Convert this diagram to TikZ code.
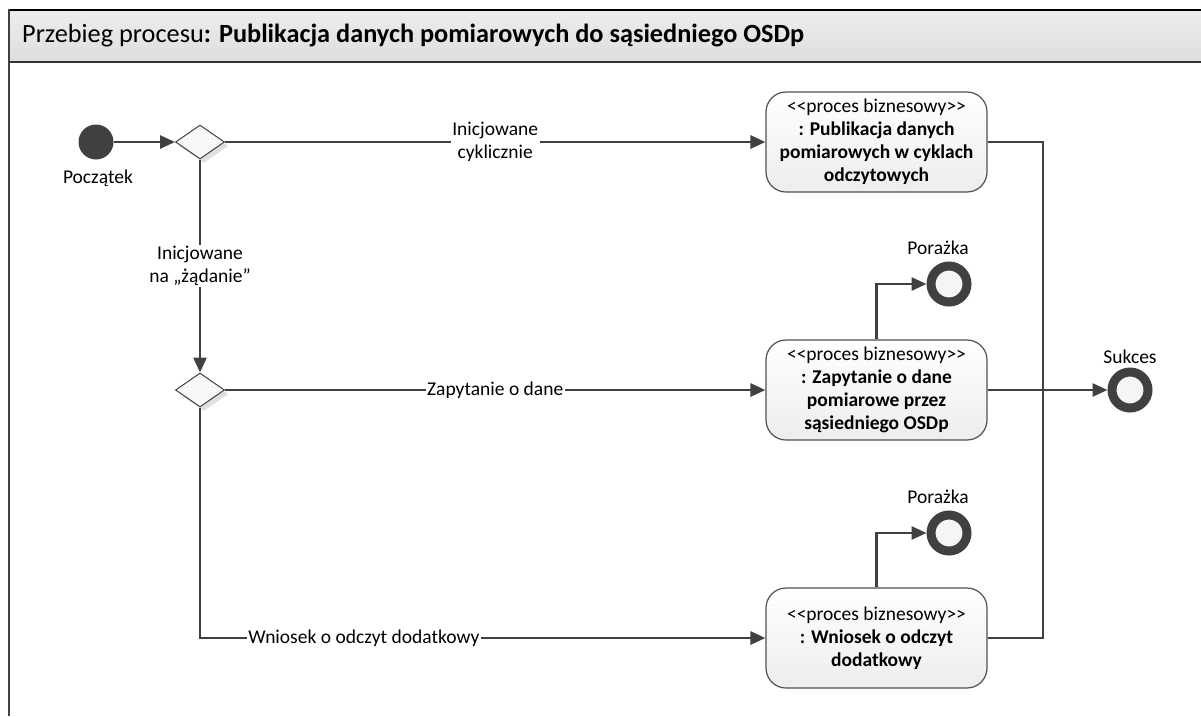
\documentclass[tikz,border=0pt]{standalone}
\usepackage{fontspec}
\setmainfont{Carlito}
\usetikzlibrary{arrows.meta,shapes.geometric,shadows}
\definecolor{lineclr}{HTML}{404040}
\definecolor{boxborder}{HTML}{505050}
\tikzset{
  conn/.style={draw=lineclr, line width=2.8pt},
  arr/.style={conn, -{Triangle[length=15pt,width=13pt]}},
  proc/.style={draw=boxborder, line width=1.2pt, rounded corners=20pt,
    minimum width=221pt, minimum height=100pt, align=center, inner sep=2pt,
    top color=white, bottom color=black!7,
    font=\fontsize{19.5}{23}\selectfont},
  decision/.style={diamond, draw=black!75, line width=1pt, fill=black!3,
    minimum width=49pt, minimum height=34pt, inner sep=0pt,
    drop shadow={shadow xshift=4pt, shadow yshift=-4pt, fill=black!12, opacity=1}},
  endnode/.style={circle, draw=lineclr, line width=9pt, fill=black!4,
    minimum size=36pt, inner sep=0pt},
  startnode/.style={circle, fill=lineclr, minimum size=35pt, inner sep=0pt},
  lbl/.style={fill=white, inner sep=1.5pt, align=center,
    font=\fontsize{19.5}{22.8}\selectfont},
  txt/.style={inner sep=0pt, font=\fontsize{19.5}{22.8}\selectfont}
}
\begin{document}
\begin{tikzpicture}[x=1pt,y=-1pt]
\useasboundingbox (0,0) rectangle (1201,716);
% frame and header
\shade[top color=black!7, bottom color=black!13] (9,10) rectangle (1201,62);
\draw[black, line width=2.5pt] (8,10) -- (1201,10);
\draw[black!80, line width=1.5pt] (9,62) -- (1201,62);
\draw[black!75, line width=2pt] (9,9) -- (9,716);
\node[anchor=west, inner sep=0pt, font=\fontsize{26.3}{30}\selectfont] (title) at (22,36)
  {Przebieg procesu\textbf{: Publikacja danych pomiarowych do sąsiedniego OSDp}};

% nodes
\node[startnode] (start) at (96,142) {};
\node[txt] (startlbl) at (98,178) {Początek};
\node[decision] (d1) at (200,142) {};
\node[decision] (d2) at (200,390) {};
\node[proc] (p1) at (876.5,142) {<{}<proces biznesowy>{}>\\\textbf{: Publikacja danych}\\\textbf{pomiarowych w cyklach}\\\textbf{odczytowych}};
\node[proc] (p2) at (876.5,390) {<{}<proces biznesowy>{}>\\\textbf{: Zapytanie o dane}\\\textbf{pomiarowe przez}\\\textbf{sąsiedniego OSDp}};
\node[proc] (p3) at (876.5,638) {<{}<proces biznesowy>{}>\\\textbf{: Wniosek o odczyt}\\\textbf{dodatkowy}};
\node[endnode] (f1) at (949,284) {};
\node[txt] (f1lbl) at (938,248) {Porażka};
\node[endnode] (f2) at (949,533) {};
\node[txt] (f2lbl) at (938,497) {Porażka};
\node[endnode] (s) at (1130,390) {};
\node[txt] (slbl) at (1130,357) {Sukces};
\coordinate (bus) at (1043,390);
\coordinate (corner3) at (200,638);

% connectors
\draw[arr] (start) -- (d1);
\draw[arr] (d1.east) -- node[lbl]{Inicjowane\\cyklicznie} (p1.west);
\draw[arr] (d1.south) -- node[lbl]{Inicjowane\\na „żądanie”} (d2.north);
\draw[arr] (d2.east) -- node[lbl]{Zapytanie o dane} (p2.west);
\draw[arr] (d2.south) -- (corner3) -- node[lbl, pos=0.29]{Wniosek o odczyt dodatkowy} (p3.west);
\draw[arr] (p2.north) |- (f1);
\draw[arr] (p3.north) |- (f2);
\draw[conn] (p1.east) -| (bus);
\draw[conn] (p3.east) -| (bus);
\draw[arr] (p2.east) -- (s);
\end{tikzpicture}
\end{document}
